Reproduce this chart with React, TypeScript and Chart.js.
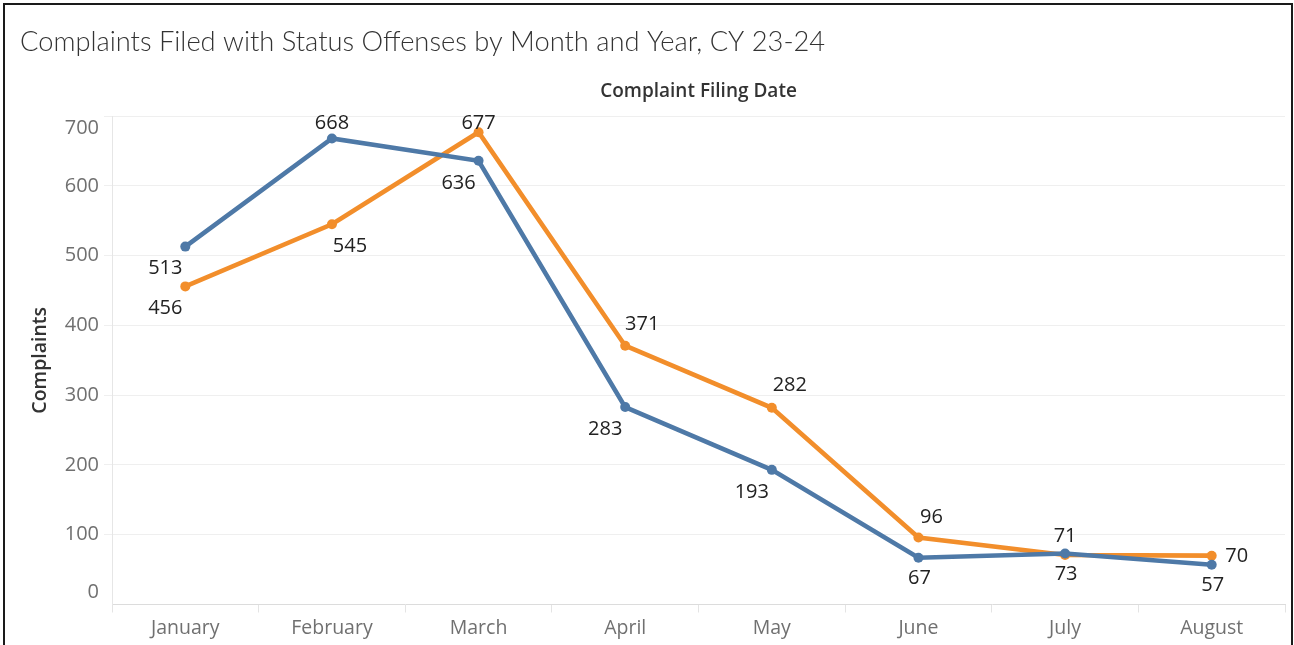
import React, { useEffect, useRef } from "react";
import { Chart, registerables } from "chart.js";

Chart.register(...registerables);

const months = ["January", "February", "March", "April", "May", "June", "July", "August"];
const seriesBlue = [513, 668, 636, 283, 193, 67, 73, 57];
const seriesOrange = [456, 545, 677, 371, 282, 96, 71, 70];
const yTickValues = [0, 100, 200, 300, 400, 500, 600, 700];

// label placement keywords per point
const bluePlacement = ["bl", "a", "bl", "bl", "bl", "b", "b", "b"];
const orangePlacement = ["bl", "br", "at", "ar", "ar2", "ar3", "aw", "r"];

const OFFSETS: Record<string, [number, number]> = {
  a: [0, -15],
  aw: [0, -19],
  at: [0, -8.5],
  b: [1, 21],
  bl: [-20, 22],
  br: [18, 22],
  ar: [17, -21.5],
  ar2: [18, -22],
  ar3: [13, -20],
  r: [25, 1],
};

const FONT = "'Open Sans', 'Noto Sans', sans-serif";
const TITLE_FONT = "Lato, 'Open Sans', sans-serif";
const BLUE = "#4e79a7";
const ORANGE = "#f28e2b";

const labelPlugin = {
  id: "pointValueLabels",
  afterDatasetsDraw(chart: any) {
    const ctx = chart.ctx;
    ctx.save();
    ctx.font = `20px ${FONT}`;
    ctx.fillStyle = "#222222";
    ctx.textAlign = "center";
    ctx.textBaseline = "middle";
    chart.data.datasets.forEach((ds: any, i: number) => {
      const meta = chart.getDatasetMeta(i);
      meta.data.forEach((pt: any, j: number) => {
        const off = OFFSETS[ds.labelPlacement[j]] || [0, -15];
        ctx.fillText(String(ds.data[j]), pt.x + off[0], pt.y + off[1]);
      });
    });
    ctx.restore();
  },
};

export default function App() {
  const ref = useRef<HTMLCanvasElement | null>(null);

  useEffect(() => {
    if (!ref.current) return;
    const chart = new Chart(ref.current, {
      type: "line",
      data: {
        labels: months,
        datasets: [
          {
            label: "Blue",
            data: seriesBlue,
            borderColor: BLUE,
            backgroundColor: BLUE,
            borderWidth: 4.6,
            pointRadius: 5,
            pointHoverRadius: 5,
            pointBorderWidth: 0,
            tension: 0,
            labelPlacement: bluePlacement,
          } as any,
          {
            label: "Orange",
            data: seriesOrange,
            borderColor: ORANGE,
            backgroundColor: ORANGE,
            borderWidth: 4.6,
            pointRadius: 5,
            pointHoverRadius: 5,
            pointBorderWidth: 0,
            tension: 0,
            labelPlacement: orangePlacement,
          } as any,
        ],
      },
      options: {
        responsive: false,
        animation: false,
        layout: { padding: { left: 20, right: 9, top: 0, bottom: 0 } },
        plugins: {
          legend: { display: false },
          tooltip: { enabled: false },
          title: {
            display: true,
            text: "Complaints Filed with Status Offenses by Month and Year, CY 23-24",
            align: "start",
            color: "#333333",
            font: { family: TITLE_FONT, size: 27.3, weight: "300" as any },
            padding: { top: 25.8, bottom: 8 },
          },
        },
        scales: {
          x: {
            type: "category",
            position: "bottom",
            offset: true,
            grid: {
              offset: true,
              drawOnChartArea: false,
              drawTicks: true,
              tickLength: 8,
              color: "#e4e4e4",
            },
            border: { display: true, color: "#dcdcdc", dash: [2, 2] },
            ticks: {
              color: "#707070",
              font: { family: FONT, size: 19.5 },
              padding: 4,
              maxRotation: 0,
            },
            afterFit: (s: any) => {
              s.height = 40.5;
            },
          },
          x2: {
            type: "category",
            position: "top",
            offset: true,
            grid: { display: false, drawTicks: false },
            border: { display: false },
            ticks: { display: false },
            title: {
              display: true,
              text: "Complaint Filing Date",
              color: "#333333",
              font: { family: FONT, size: 19, weight: "600" as any },
              padding: { top: 13.5, bottom: 4 },
            },
            afterFit: (s: any) => {
              s.height = 49.6;
            },
          },
          y: {
            min: 0,
            max: 700,
            afterBuildTicks: (s: any) => {
              s.ticks = yTickValues.map((v) => ({ value: v }));
            },
            grid: {
              color: (c: any) => (c.tick && c.tick.value === 0 ? "rgba(0,0,0,0)" : "#efefef"),
              tickLength: 8,
              drawTicks: true,
            },
            border: { display: true, color: "#e6e6e6" },
            ticks: {
              color: "#707070",
              font: { family: FONT, size: 20, lineHeight: 1.2 },
              padding: 5,
              callback: (v: any) => {
                if (v === 0) return ["0", ""];
                if (v === 700) return ["", "700"];
                return String(v);
              },
            },
            title: {
              display: true,
              text: "Complaints",
              color: "#333333",
              font: { family: FONT, size: 19.5, weight: "600" as any },
              padding: { top: 8.3, bottom: 4 },
            },
            afterFit: (s: any) => {
              s.width = 92;
            },
          },
        },
      },
      plugins: [labelPlugin],
    });
    return () => chart.destroy();
  }, []);

  return (
    <div style={{ position: "absolute", left: 0, top: 0, width: 1294, height: 645, overflow: "hidden", background: "#fff" }}>
      <canvas ref={ref} width={1294} height={645} style={{ display: "block", width: 1294, height: 645 }} />
      <div
        style={{
          position: "absolute",
          left: 3,
          top: 3,
          width: 1290,
          height: 700,
          boxSizing: "border-box",
          border: "2px solid #1a1a1a",
          pointerEvents: "none",
        }}
      />
    </div>
  );
}
